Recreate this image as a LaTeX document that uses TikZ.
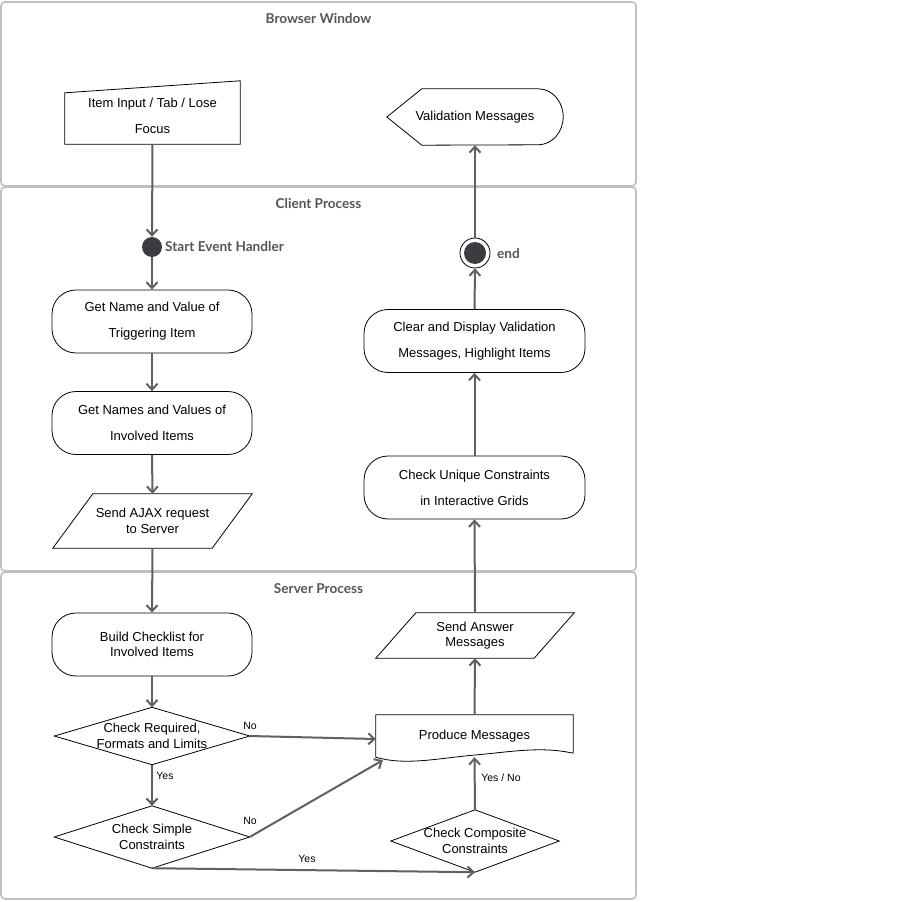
\documentclass[tikz,border=0pt]{standalone}
\usepackage{fontspec}
\setmainfont{Liberation Sans}
\newfontfamily\lanefont{Lato}
\usetikzlibrary{arrows.meta}
\definecolor{lanegrey}{RGB}{188,192,196}
\definecolor{flowgrey}{RGB}{96,96,96}
\definecolor{titlegrey}{RGB}{85,85,85}
\definecolor{dotgrey}{RGB}{58,60,64}
\tikzset{
  base/.style={font=\fontsize{13}{15.5}\selectfont, align=center, inner sep=0pt, text=black},
  lane/.style={rectangle, rounded corners=4pt, draw=lanegrey, line width=1.6pt},
  lanetitle/.style={font=\lanefont\bfseries\fontsize{13.6}{16}\selectfont, text=titlegrey, inner sep=0pt},
  term/.style={base, rectangle, rounded corners=24pt, draw=black, line width=0.8pt, minimum height=63pt},
  shapebox/.style={base, rectangle, minimum width=#1},
  outline/.style={draw=black, line width=0.8pt},
  lbl/.style={font=\fontsize{10.5}{12}\selectfont, inner sep=1pt},
  arr/.style={-{Straight Barb[length=6pt,width=11pt]}, line width=2pt, draw=flowgrey},
}

\begin{document}
\begin{tikzpicture}[x=1pt,y=1pt]
  \useasboundingbox[fill=white] (0,0) rectangle (909,-901);
  \node[lane,minimum width=635pt,minimum height=184pt] (browser) at (318.5,-94) {};
  \node[lane,minimum width=635pt,minimum height=384pt] (client) at (318.5,-379) {};
  \node[lane,minimum width=635pt,minimum height=327pt] (server) at (318.5,-735.5) {};
  \foreach \l/\t in {browser/Browser Window, client/Client Process, server/Server Process}{
    \node[lanetitle] (\l-title) at ([yshift=-17pt]\l.north) {\t};
  }

  \node[shapebox=175pt,minimum height=57pt] (input) at (152.5,-115.5) {Item Input / Tab / Lose\\[10.5pt]Focus};
  \draw[outline] ([yshift=-6pt]input.north west) -- ([yshift=6pt]input.north east) -- (input.south east) -- (input.south west) -- cycle;
  \node[shapebox=176pt,minimum height=56pt] (valmsg) at (475,-117) {Validation Messages};
  \draw[outline] ([xshift=35pt]valmsg.north west) -- ([xshift=-25pt]valmsg.north east)
    arc[start angle=90,end angle=-90,x radius=25pt,y radius=28pt] -- ([xshift=35pt]valmsg.south west) -- (valmsg.west) -- cycle;

  \node[circle,fill=dotgrey,minimum size=20pt,inner sep=0pt] (start) at (152,-247) {};
  \node[lanetitle,anchor=west] (startlbl) at (165,-247) {Start Event Handler};
  \node[term,minimum width=200pt] (getname) at (152,-321.5) {Get Name and Value of\\[10.5pt]Triggering Item};
  \node[term,minimum width=200pt] (getinv) at (152,-423) {Get Names and Values of\\[10.5pt]Involved Items};
  \node[shapebox=199pt,minimum height=54pt] (ajax) at (152.5,-521) {Send AJAX request\\to Server};
  \draw[outline] ([xshift=40pt]ajax.north west) -- (ajax.north east) -- ([xshift=-40pt]ajax.south east) -- (ajax.south west) -- cycle;

  \node[circle,draw=black,line width=0.8pt,minimum size=30pt,inner sep=0pt] (endpt) at (475,-253) {};
  \node[circle,fill=dotgrey,minimum size=22pt,inner sep=0pt] (enddot) at (endpt.center) {};
  \node[lanetitle,anchor=west] (endlbl) at (497,-253) {end};
  \node[term,minimum width=221pt] (clear) at (474.5,-341) {Clear and Display Validation\\[10.5pt]Messages, Highlight Items};
  \node[term,minimum width=221pt] (unique) at (474.5,-487.5) {Check Unique Constraints\\[10.5pt]in Interactive Grids};

  \node[term,minimum width=200pt] (build) at (152,-644.5) {Build Checklist for\\Involved Items};
  \node[shapebox=195pt,minimum height=57pt] (chkreq) at (152,-736) {Check Required,\\Formats and Limits};
  \node[shapebox=195pt,minimum height=62pt] (chksim) at (152,-837) {Check Simple\\Constraints};
  \node[shapebox=168pt,minimum height=62pt] (chkcomp) at (475,-841) {Check Composite\\Constraints};
  \foreach \d in {chkreq,chksim,chkcomp}{
    \draw[outline] (\d.north) -- (\d.east) -- (\d.south) -- (\d.west) -- cycle;
  }
  \node[shapebox=197pt,minimum height=42pt] (prod) at (474.5,-736) {Produce Messages};
  \draw[outline] ([yshift=4pt]prod.south east) -- (prod.north east) -- (prod.north west) -- (prod.south west)
    .. controls (405,-766) and (440,-758) .. (475,-755) .. controls (510,-752) and (540,-746) .. ([yshift=4pt]prod.south east);
  \node[shapebox=198pt,minimum height=45pt] (answer) at (475,-635.5) {Send Answer\\Messages};
  \draw[outline] ([xshift=40pt]answer.north west) -- (answer.north east) -- ([xshift=-40pt]answer.south east) -- (answer.south west) -- cycle;

  \foreach \a/\b in {input/start,start/getname,getname/getinv,getinv/ajax,ajax/build,build/chkreq,chkreq/chksim}{
    \draw[arr] (\a.south) -- (\b.north);
  }
  \foreach \a/\b in {chkcomp/prod,prod/answer,answer/unique,unique/clear,clear/endpt,endpt/valmsg}{
    \draw[arr] (\a.north) -- (\b.south);
  }
  \draw[arr] (chkreq.east) -- ([yshift=-3pt]prod.west);
  \draw[arr] (chksim.east) -- ([xshift=7pt,yshift=-3pt]prod.south west);
  \draw[arr] (chksim.south) -- (chkcomp.south);

  \node[lbl] (reqno) at (250,-726) {No};
  \node[lbl] (reqyes) at (165,-776) {Yes};
  \node[lbl] (simno) at (250,-821) {No};
  \node[lbl] (simyes) at (307,-859) {Yes};
  \node[lbl] (compyn) at (501,-778) {Yes / No};
\end{tikzpicture}
\end{document}
